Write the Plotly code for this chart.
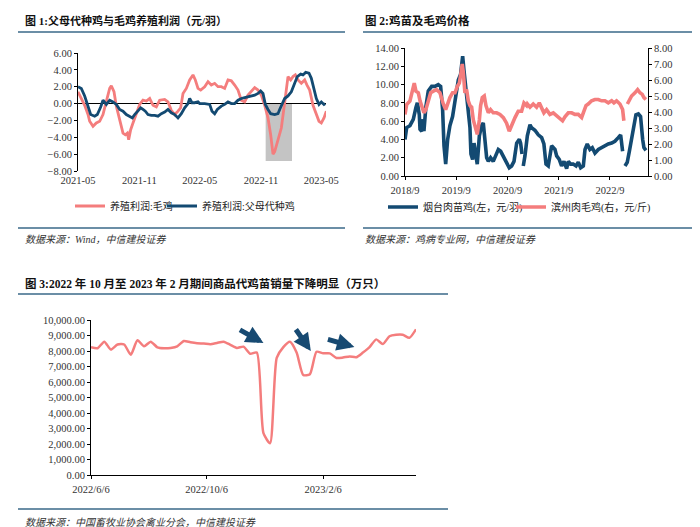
import pandas as pd
import plotly.graph_objects as go

# ---------------- Panel 1: breeding profit (元/羽) ----------------
p1_start = "2021-05-01"
p1_pink_days = [0, 10, 20, 30, 35, 45, 55, 65, 75, 80, 90, 95, 100, 108, 115, 125, 135, 142, 148, 152,
                158, 165, 175, 185, 195, 205, 215, 225, 235, 245, 260, 270, 280, 290, 300, 308, 315, 325,
                335, 345, 352, 360, 368, 380, 390, 400, 410, 420, 430, 440, 450, 460, 470, 480, 490, 500,
                510, 520, 530, 540, 550, 560, 570, 578, 585, 590, 600, 610, 618, 625, 630, 638, 645, 652,
                660, 670, 680, 687, 695, 705, 715, 723, 730, 738, 745]
p1_pink = [1.4, 0.6, -0.2, -1.3, -2.1, -2.7, -2.3, -2.1, -1.3, -0.5, 1.2, 1.8, 2.1, 1.4, -0.3, -2.1, -3.5,
           -3.7, -3.5, -4.3, -3.1, -2.3, -1.3, -0.1, 0.4, 0.3, 0.6, -0.2, -0.4, 0.4, 0.5, 0.2, -0.8, -1.3,
           -0.9, -0.5, 1.2, 1.8, 2.8, 3.4, 2.8, 1.8, 1.6, 2.0, 2.6, 2.2, 2.4, 2.0, 2.0, 1.8, 2.8, 2.7, 2.2,
           1.6, 0.4, 0.2, 1.0, 1.4, 1.9, 1.6, 1.0, -0.2, -1.7, -3.7, -6.0, -5.7, -4.3, -2.9, -0.5, 1.4, 3.2,
           2.8, 3.2, 3.4, 2.8, 2.4, 2.8, 2.2, 1.6, -0.2, -1.3, -2.1, -2.3, -1.7, -0.9]
p1_blue_days = [0, 10, 20, 30, 38, 50, 58, 68, 75, 85, 95, 105, 115, 125, 135, 145, 155, 163, 170, 180,
                188, 195, 202, 210, 220, 230, 240, 250, 260, 270, 280, 290, 300, 310, 320, 330, 335, 342,
                350, 360, 365, 380, 395, 402, 410, 418, 430, 440, 450, 460, 470, 480, 490, 500, 510, 520,
                530, 540, 548, 555, 562, 570, 578, 590, 600, 605, 612, 620, 630, 640, 650, 658, 668, 675,
                683, 693, 700, 708, 715, 723, 730, 738, 742]
p1_blue = [2.0, 1.8, 0.9, -0.5, -1.3, -1.5, -1.3, -0.4, 0.4, -0.1, 0.4, 0.2, -0.1, -0.7, -0.9, -1.3, -1.5,
           -1.7, -1.3, -0.9, -0.5, -0.7, -0.9, -1.3, -1.4, -1.4, -1.5, -1.2, -1.0, -0.7, -1.1, -1.3, -1.7,
           -1.2, -0.5, 0.0, 0.6, 0.1, 0.1, 0.2, 0.0, 0.0, -0.1, -0.9, -1.2, -0.7, -0.3, -0.1, 0.2, 0.0, 0.0,
           0.4, 0.6, 0.7, 0.8, 0.9, 1.0, 1.2, 1.5, 1.2, -0.1, -0.7, -1.2, -1.3, -1.2, -0.7, 0.0, 0.6, 0.9,
           1.4, 2.4, 3.2, 3.5, 3.4, 3.7, 3.6, 3.0, 1.8, 0.6, -0.1, 0.2, -0.1, 0.0]
p1_shade_period = ["2022-11-15", "2023-02-02"]
p1_shade_low = -6.8
p1_tick_dates = ["2021-05-01", "2021-11-01", "2022-05-01", "2022-11-01", "2023-05-01"]
p1_tick_text = ["2021-05", "2021-11", "2022-05", "2022-11", "2023-05"]
p1_names = ["养殖利润:毛鸡", "养殖利润:父母代种鸡"]

# ---------------- Panel 2: chick & broiler price ----------------
p2_start = "2018-09-01"
p2_blue_days = [0, 12, 35, 59, 78, 88, 102, 107, 119, 130, 135, 149, 166, 190, 214, 237, 254, 268, 278,
                290, 304, 320, 339, 356, 368, 380, 396, 411, 420, 435, 451, 463, 470, 482, 492, 503, 515,
                530, 546, 558, 570, 582, 594, 610, 629, 648, 665, 682, 701, 720, 743, 760, 777, 796, 815,
                824, 834, 838, 843, 855, 872, 891, 902, 926, 950, 974, 990, 1005, 1021, 1045, 1069, 1081,
                1100, 1116, 1133, 1152, 1164, 1180, 1199, 1219, 1235, 1252, 1271, 1283, 1299, 1318, 1335,
                1354, 1378, 1401, 1425, 1449, 1473, 1496, 1520, 1537, 1551, 1558, 1568, 1584, 1599, 1615,
                1632, 1646, 1663, 1679, 1694, 1703, 1717]
p2_blue = [4.0, 5.3, 5.5, 6.2, 7.5, 8.0, 6.7, 5.1, 4.9, 6.2, 4.9, 7.6, 9.3, 9.8, 9.8, 10.0, 9.8, 7.3, 3.3,
           1.3, 4.0, 5.5, 6.5, 8.2, 9.8, 10.5, 11.1, 13.1, 11.6, 9.6, 7.3, 5.3, 2.4, 1.8, 3.6, 2.2, 1.3,
           4.4, 5.5, 5.8, 3.8, 2.0, 1.6, 2.0, 1.6, 2.4, 2.9, 2.7, 2.2, 1.6, 0.9, 1.1, 1.6, 3.6, 4.0, 3.6,
           2.4, None, 1.1, 2.2, 4.4, 5.6, 5.3, 5.0, 4.5, 4.2, 3.5, 1.3, 1.1, 3.3, 2.9, 2.2, 1.8, 1.1, 1.6,
           0.8, 1.6, 1.3, 1.3, 1.1, 1.5, 0.9, 1.1, 2.9, 3.5, 2.9, 3.1, 2.5, 2.9, 3.1, 3.3, 3.5, 3.6, 3.8,
           4.2, 4.5, 2.7, None, 1.1, 1.5, 2.7, 4.2, 5.3, 6.7, 6.8, 6.5, 4.0, 3.1, 2.8]
p2_pink_days = [0, 12, 35, 54, 66, 78, 95, 107, 119, 135, 149, 166, 183, 202, 225, 249, 261, 273, 290, 304,
                320, 339, 356, 373, 387, 399, 408, 416, 427, 439, 451, 463, 475, 487, 499, 515, 530, 539,
                551, 565, 577, 594, 610, 629, 653, 677, 701, 724, 743, 760, 784, 807, 831, 848, 867, 872,
                891, 914, 938, 957, 974, 990, 1009, 1033, 1057, 1081, 1104, 1123, 1140, 1164, 1188, 1211,
                1235, 1259, 1271, 1290, 1306, 1330, 1354, 1378, 1401, 1425, 1449, 1473, 1489, 1508, 1532,
                1551, 1560, 1570, 1585, 1599, 1615, 1639, 1658, 1675, 1691, 1703, 1717]
p2_pink = [3.85, 4.47, 4.68, 5.4, 5.8, 5.3, 5.2, 4.7, 4.3, 3.95, 4.15, 4.8, 5.2, 5.3, 5.4, 5.2, 4.8, 4.5,
           4.15, 4.5, 4.9, 5.2, 5.2, 5.6, 5.8, 6.45, 7.0, 6.45, 5.2, 5.4, 4.7, 4.4, 4.3, 3.5, 3.1, 2.6,
           3.5, 4.4, 4.9, 5.0, 4.4, 3.95, 4.15, 3.95, 3.95, 3.85, 3.65, 3.3, 2.8, 3.2, 3.65, 4.05, 4.05,
           4.57, 4.4, 4.5, 4.3, 4.5, 4.3, 4.57, 4.3, 3.95, 4.15, 3.85, 3.95, 3.75, 3.55, 3.45, 3.7, 3.95,
           3.95, 3.85, 3.85, 3.65, 3.95, 4.4, 4.5, 4.7, 4.78, 4.78, 4.7, 4.7, 4.57, 4.7, 4.57, 4.7, 4.5,
           4.15, 3.45, None, 4.5, 4.78, 5.0, 5.2, 5.4, 5.2, 5.1, 4.9, 4.78]
p2_tick_dates = ["2018-09-01", "2019-09-01", "2020-09-01", "2021-09-01", "2022-09-01"]
p2_tick_text = ["2018/9", "2019/9", "2020/9", "2021/9", "2022/9"]
p2_names = ["烟台肉苗鸡(左，元/羽)", "滨州肉毛鸡(右，元/斤)"]

# ---------------- Panel 3: weekly chick sales (万只) ----------------
p3_dates = pd.date_range("2022-06-06", periods=50, freq="7D")
p3_sales = [8240, 8180, 8600, 8090, 8420, 8420, 7760, 8690, 8300, 8600, 8240, 8180, 8200, 8300, 8650,
            8560, 8500, 8480, 8440, 8520, 8600, 8400, 8200, 8280, 7820, 7900, 2700, 2050, 7550, 8250,
            8600, 7900, 6450, 6500, 7950, 7850, 7850, 7550, 7580, 7650, 7600, 7900, 8250, 8750, 8450,
            8950, 9050, 9050, 8850, 9400]
p3_tick_dates = ["2022-06-06", "2022-10-06", "2023-02-06"]
p3_tick_text = ["2022/6/6", "2022/10/6", "2023/2/6"]
p3_arrow_heads = [("2022-12-05", 8516), ("2023-01-24", 8000), ("2023-03-11", 8258)]

# ---------------- styling ----------------
PINK = "#f47d7d"
BLUE = "#134a72"
RULE = "#6b8ea6"
SERIF = "'Liberation Serif', 'Times New Roman', 'Noto Sans CJK SC', serif"
W, H = 700, 527


def px_x(p):
    return p / W


def px_y(p):
    return 1 - p / H


def to_dates(start, days):
    return pd.to_datetime(start) + pd.to_timedelta(days, unit="D")


fig = go.Figure()

fig.add_trace(go.Scatter(x=to_dates(p1_start, p1_pink_days), y=p1_pink, mode="lines",
                         line=dict(color=PINK, width=2.8), name=p1_names[0],
                         xaxis="x", yaxis="y", legend="legend"))
fig.add_trace(go.Scatter(x=to_dates(p1_start, p1_blue_days), y=p1_blue, mode="lines",
                         line=dict(color=BLUE, width=2.8), name=p1_names[1],
                         xaxis="x", yaxis="y", legend="legend3"))

fig.add_trace(go.Scatter(x=to_dates(p2_start, p2_blue_days), y=p2_blue, mode="lines",
                         line=dict(color=BLUE, width=3.6), name=p2_names[0],
                         xaxis="x2", yaxis="y2", legend="legend2", connectgaps=False))
fig.add_trace(go.Scatter(x=to_dates(p2_start, p2_pink_days), y=p2_pink, mode="lines",
                         line=dict(color=PINK, width=3.6), name=p2_names[1],
                         xaxis="x2", yaxis="y3", legend="legend4", connectgaps=False))

fig.add_trace(go.Scatter(x=p3_dates, y=p3_sales, mode="lines",
                         line=dict(color=PINK, width=2.5, shape="spline", smoothing=0.6),
                         showlegend=False, xaxis="x3", yaxis="y4"))

tickfont = dict(family=SERIF, size=10.5, color="#333333")
axis_common = dict(showgrid=False, tickfont=tickfont, linecolor="black", linewidth=1,
                   tickcolor="black", ticklen=3)
legfont = dict(family=SERIF, size=10, color="#222")


def leg(xpx, ypx):
    return dict(orientation="h", x=px_x(xpx), y=px_y(ypx), xanchor="left", yanchor="middle",
                bgcolor="rgba(0,0,0,0)", font=legfont, itemwidth=30, tracegroupgap=0)


fig.update_layout(
    width=W, height=H, margin=dict(l=0, r=0, t=0, b=0),
    paper_bgcolor="white", plot_bgcolor="white", template="none",
    font=dict(family=SERIF, color="#222222"),
    xaxis=dict(axis_common, domain=[px_x(70), px_x(318)], anchor="y", type="date",
               range=["2021-05-01", "2023-05-15"], tickvals=p1_tick_dates, ticktext=p1_tick_text,
               showline=False, ticks="", zeroline=False, ticklabelstandoff=1),
    yaxis=dict(axis_common, domain=[px_y(163), px_y(45)], anchor="x", range=[-8, 6], dtick=2,
               tickformat=".2f", showline=True, ticks="outside", zeroline=True,
               zerolinecolor="black", zerolinewidth=1),
    xaxis2=dict(axis_common, domain=[px_x(397), px_x(640)], anchor="y2", type="date",
                range=["2018-09-01", "2023-05-30"], tickvals=p2_tick_dates, ticktext=p2_tick_text,
                showline=True, ticks="outside", zeroline=False, ticklabelstandoff=1),
    yaxis2=dict(axis_common, domain=[px_y(168), px_y(40)], anchor="x2", range=[0, 14], dtick=2,
                tickformat=".2f", showline=True, ticks="outside", zeroline=False),
    yaxis3=dict(axis_common, overlaying="y2", side="right", anchor="x2", range=[0, 8], dtick=1,
                tickformat=".2f", showline=True, ticks="outside", zeroline=False),
    xaxis3=dict(axis_common, domain=[px_x(83), px_x(408)], anchor="y4", type="date",
                range=["2022-06-06", "2023-05-15"], tickvals=p3_tick_dates, ticktext=p3_tick_text,
                showline=True, ticks="outside", zeroline=False, ticklabelstandoff=1),
    yaxis4=dict(axis_common, domain=[px_y(467), px_y(312)], anchor="x3", range=[0, 10000], dtick=1000,
                tickformat=",.2f", showline=True, ticks="outside", zeroline=False),
    legend=leg(62, 198),
    legend3=leg(154, 198),
    legend2=leg(375, 199),
    legend4=leg(503, 199),
)

# shaded period in panel 1
fig.add_shape(type="rect", xref="x", yref="y", x0=p1_shade_period[0], x1=p1_shade_period[1],
              y0=p1_shade_low, y1=0, fillcolor="#c4c4c4", line=dict(width=0), layer="below")

# horizontal rules
for (x0, x1, y) in [(10, 337, 24), (10, 337, 220), (355, 685, 24), (355, 685, 220),
                    (10, 440, 286), (10, 440, 501)]:
    fig.add_shape(type="line", xref="paper", yref="paper", x0=px_x(x0), x1=px_x(x1),
                  y0=px_y(y), y1=px_y(y), line=dict(color=RULE, width=2))

# titles and sources
TITLE = "'Liberation Serif', 'Noto Sans CJK SC', sans-serif"
texts = [
    (15, 12, "<b>图 1:父母代种鸡与毛鸡养殖利润（元/羽）</b>", 11, "#111"),
    (355, 12, "<b>图 2:鸡苗及毛鸡价格</b>", 11.5, "#111"),
    (15, 275, "<b>图 3:2022 年 10 月至 2023 年 2 月期间商品代鸡苗销量下降明显（万只）</b>", 11.5, "#111"),
    (15, 231, "<i>数据来源：Wind，中信建投证券</i>", 10, "#333"),
    (355, 231, "<i>数据来源：鸡病专业网，中信建投证券</i>", 10, "#333"),
    (15, 514, "<i>数据来源：中国畜牧业协会禽业分会，中信建投证券</i>", 10, "#333"),
]
for (x, y, t, s, c) in texts:
    fig.add_annotation(xref="paper", yref="paper", x=px_x(x), y=px_y(y), text=t, showarrow=False,
                       xanchor="left", yanchor="middle", font=dict(family=TITLE, size=s, color=c))

# arrows in panel 3
arrow_offsets = [(-25, -14), (-16, -23), (-28, -8)]
for (hx, hy), (ax, ay) in zip(p3_arrow_heads, arrow_offsets):
    fig.add_annotation(xref="x3", yref="y4", x=hx, y=hy, ax=ax, ay=ay, text="", showarrow=True,
                       arrowhead=2, arrowsize=0.7, arrowwidth=5, arrowcolor="#174a72", standoff=0)

fig.write_html("out.html")
